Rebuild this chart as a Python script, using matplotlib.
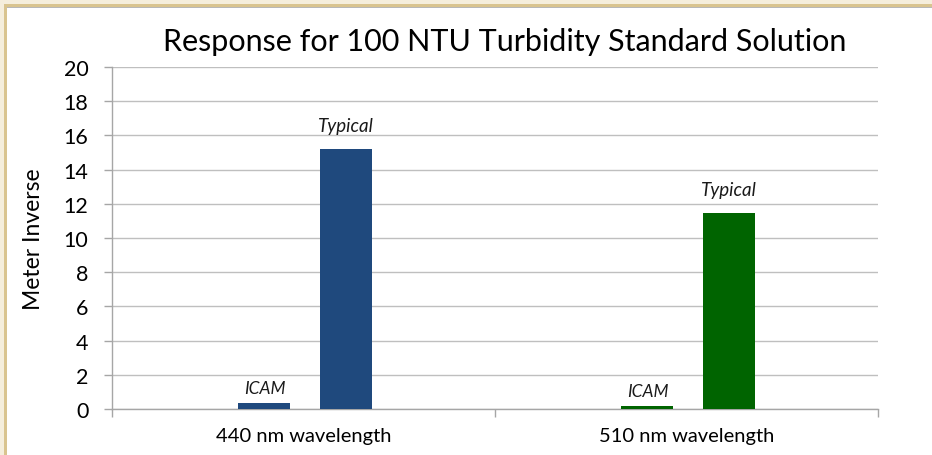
import matplotlib
matplotlib.use('Agg')
import matplotlib.pyplot as plt
from matplotlib.patches import Rectangle
import numpy as np

# ===== data =====
categories = ['440 nm wavelength', '510 nm wavelength']
series_names = ['ICAM', 'Typical']
icam_vals = [0.33, 0.18]
typical_vals = [15.2, 11.45]
bar_colors = ['#1F497D', '#006400']
y_ticks = [0, 2, 4, 6, 8, 10, 12, 14, 16, 18, 20]

# ===== style =====
FONT = 'Lato'
GRID_COLOR = '#BFBFBF'
AXIS_COLOR = '#A6A6A6'
BAR_W = 0.136
OFFSETS = [-0.102, 0.110]
LABEL_PAD = [5, 11]      # points above bar top for ICAM / Typical labels
LABEL_SIZE = [12.5, 13.5]

plt.rcParams['font.family'] = [FONT, 'DejaVu Sans']

fig = plt.figure(figsize=(9.32, 4.56), dpi=100, facecolor='white')
W, H = 932, 456

# frame (beige strip + tan rule on top and left)
def px_rect(x, y, w, h, color):
    fig.patches.append(Rectangle((x / W, 1 - (y + h) / H), w / W, h / H,
                                 transform=fig.transFigure, facecolor=color,
                                 edgecolor='none', zorder=0))

px_rect(0, 0, W, 5, '#F5EEDC')
px_rect(0, 0, 4, H, '#F5EEDC')
px_rect(4, 5, W, 3, '#D9C48F')
px_rect(4, 5, 3, H, '#D9C48F')
px_rect(7, 8, W, 1, '#B8B8B8')

ax = fig.add_axes([112 / W, 1 - 410 / H, (878 - 112) / W, (410 - 68) / H])
ax.set_facecolor('none')

x = np.arange(len(categories))
for i, vals in enumerate([icam_vals, typical_vals]):
    xs = x + OFFSETS[i]
    ax.bar(xs, vals, width=BAR_W, color=bar_colors, zorder=3)
    for xi, v in zip(xs, vals):
        ax.annotate(series_names[i], (xi, v), xytext=(0, LABEL_PAD[i]),
                    textcoords='offset points', ha='center', va='bottom',
                    fontsize=LABEL_SIZE[i], style='italic', color='#1a1a1a')

ax.set_xlim(-0.5, len(categories) - 0.5)
ax.set_ylim(0, 20)
ax.set_yticks(y_ticks)
ax.set_yticklabels([str(t) for t in y_ticks], fontsize=15.5)
ax.yaxis.grid(True, color=GRID_COLOR, linewidth=1, zorder=0)
ax.set_axisbelow(True)

# category boundaries as major ticks, labels on minor ticks
ax.set_xticks(np.arange(-0.5, len(categories), 1.0))
ax.set_xticklabels([])
ax.set_xticks(x, minor=True)
ax.set_xticklabels(categories, minor=True, fontsize=14.5)
ax.tick_params(axis='x', which='minor', length=0, pad=13)
ax.tick_params(axis='x', which='major', length=6, color=AXIS_COLOR, width=1)
ax.tick_params(axis='y', length=6, color=AXIS_COLOR, width=1, pad=11)

for s in ['top', 'right']:
    ax.spines[s].set_visible(False)
for s in ['left', 'bottom']:
    ax.spines[s].set_color(AXIS_COLOR)
    ax.spines[s].set_linewidth(1)

ax.set_ylabel('Meter Inverse', fontsize=16.5, va='center')
ax.yaxis.set_label_coords(-0.102, 0.5)
fig.text(505 / W, 1 - 42 / H, 'Response for 100 NTU Turbidity Standard Solution',
         ha='center', va='center', fontsize=22)

fig.savefig('out.png', dpi=100, facecolor='white')
